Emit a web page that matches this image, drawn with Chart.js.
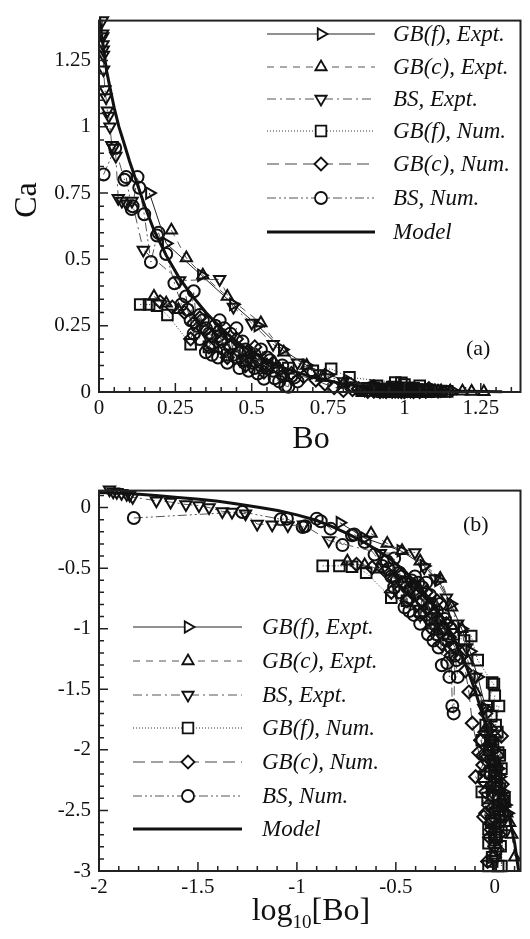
<!DOCTYPE html>
<html>
<head>
<meta charset="utf-8">
<script src="https://cdn.jsdelivr.net/npm/chart.js@4.4.1/dist/chart.umd.min.js"></script>
<style>
  html, body { margin: 0; padding: 0; background: #fff; }
  canvas { display: block; }
</style>
</head>
<body>
<canvas id="chart-a" width="530" height="470"></canvas>
<canvas id="chart-b" width="530" height="469"></canvas>
<script>
const seriesLabels = ["GB(f), Expt.", "GB(c), Expt.", "BS, Expt.", "GB(f), Num.", "GB(c), Num.", "BS, Num.", "Model"];

// values; panel (b) is log10 of the same points
// null marks a break in a series' line
const gbfExptBo = [0.165, 0.22, 0.335, 0.44, 0.52, 0.6, 0.68, 0.75, 0.82, 0.9, 0.97, 1.0, 1.04, 1.06, 1.1, 1.13, 1.16];
const gbfExptCa = [0.75, 0.56, 0.44, 0.33, 0.25, 0.16, 0.1, 0.065, 0.04, 0.022, 0.012, 0.01, 0.007, 0.006, 0.0045, 0.0035, 0.003];

const gbcExptBo = [0.237, 0.286, 0.34, 0.42, 0.53, 0.605, 0.68, 0.73, 0.8, 0.9, 1.0, 1.1, 1.12, 1.15, 1.19, 1.22, 1.26,
    null, 0.18, 0.22, 0.26];
const gbcExptCa = [0.61, 0.505, 0.44, 0.36, 0.26, 0.15, 0.1, 0.055, 0.03, 0.015, 0.008, 0.0042, 0.0036, 0.003, 0.0025, 0.002, 0.0013,
    null, 0.36, 0.335, 0.31];

const bsExptBo = [0.0113, 0.0118, 0.0123, 0.013, 0.0138, 0.0143, 0.0148, 0.0195, 0.023, 0.0275, 0.032, 0.036, 0.042, 0.047, 0.055,
    0.063, 0.075, 0.09, 0.108, 0.145, 0.264, 0.395, 0.44, 0.5, 0.57, 0.65, 0.72, 0.8, 0.88, 0.95, 1.02];
const bsExptCa = [1.40, 1.35, 1.34, 1.31, 1.29, 1.27, 1.215, 1.14, 1.11, 1.06, 1.04, 1.0, 0.93, 0.92, 0.89,
    0.73, 0.72, 0.71, 0.72, 0.535, 0.42, 0.425, 0.32, 0.26, 0.18, 0.11, 0.07, 0.04, 0.022, 0.012, 0.007];

const gbfNumBo = [0.135, 0.164, 0.19, 0.224, 0.3, 0.36, 0.42, 0.48, 0.55, 0.62, 0.7, 0.76, 0.82, 0.97, 0.99, 0.91, 1.05, 1.01,
    1.08, 0.86, 0.93, 0.93, 0.93, 0.97, 1.02, 1.06, 1.08, 1.12, 1.04, 0.95, 0.99,
    null, 1.0, 0.96, 1.03, 0.98, 1.06, 1.0, 0.95, 1.03, 0.98, 1.06, 1.0, 0.96, 1.04, 1.0, 1.07, 1.01, 0.97, 1.04,
    null, 0.86, 0.88, 0.9, 0.92, 0.94, 0.96, 0.98, 1.0, 1.02, 1.04, 1.06, 1.08, 1.1, 1.12, 1.14];
const gbfNumCa = [0.33, 0.33, 0.325, 0.29, 0.18, 0.17, 0.14, 0.12, 0.1, 0.09, 0.08, 0.087, 0.055, 0.036, 0.035, 0.023, 0.023, 0.016,
    0.007, 0.0045, 0.0022, 0.0017, 0.0011, 0.0013, 0.0019, 0.0028, 0.0011, 0.004, 0.0095, 0.012, 0.0055,
    null, 0.028, 0.019, 0.014, 0.011, 0.009, 0.0075, 0.0065, 0.0052, 0.0042, 0.0035, 0.003, 0.0026, 0.0023, 0.002, 0.0016, 0.0014, 0.0012, 0.0011,
    null, 0.012, 0.006, 0.016, 0.004, 0.01, 0.0025, 0.008, 0.0018, 0.006, 0.0032, 0.0048, 0.0021, 0.0038, 0.0026, 0.0024];

const gbcNumBo = [0.2, 0.24, 0.28, 0.31, 0.34, 0.37, 0.4, 0.43, 0.46, 0.49, 0.52, 0.55, 0.59, 0.63, 0.67, 0.71, 0.74, 0.77,
    0.83, 0.87, 0.8, 0.9, 0.93, 0.88, 0.96, 1.0, 1.05, 1.08, 0.95, 0.92, 0.98, 1.02, 0.9, 0.85,
    null, 0.9, 0.95, 0.85, 0.98, 0.92, 1.02, 0.88, 0.97, 1.05, 0.9, 1.0, 0.94, 1.03, 0.99,
    null, 0.3, 0.33, 0.36, 0.39, 0.42, 0.45, 0.48, 0.51, 0.54, 0.57, 0.6,
    null, 0.87, 0.89, 0.91, 0.95, 0.97, 0.99, 1.01, 1.03, 1.07, 1.09, 1.11];
const gbcNumCa = [0.34, 0.32, 0.3, 0.26, 0.24, 0.21, 0.19, 0.17, 0.15, 0.13, 0.12, 0.1, 0.085, 0.07, 0.058, 0.045, 0.03, 0.0166,
    0.0095, 0.0075, 0.006, 0.0045, 0.0035, 0.0028, 0.0022, 0.0016, 0.002, 0.013, 0.005, 0.0012, 0.0026, 0.0033, 0.009, 0.012,
    null, 0.02, 0.015, 0.012, 0.01, 0.008, 0.007, 0.0055, 0.0045, 0.004, 0.003, 0.0027, 0.0019, 0.0015, 0.0013,
    null, 0.2, 0.28, 0.17, 0.23, 0.13, 0.2, 0.1, 0.17, 0.075, 0.11, 0.06,
    null, 0.009, 0.014, 0.0065, 0.011, 0.0033, 0.013, 0.005, 0.009, 0.0028, 0.0052, 0.0035];

const bsNumBo = [0.015, 0.053, 0.083, 0.089, 0.107, 0.11, 0.126, 0.132, 0.148, 0.17, 0.19, 0.195, 0.22, 0.247, 0.27, 0.285,
    0.3, 0.31, 0.32, 0.33, 0.34, 0.35, 0.36, 0.37, 0.38, 0.39, 0.395, 0.4, 0.41, 0.42, 0.43, 0.44, 0.45, 0.46, 0.47, 0.48,
    0.49, 0.5, 0.51, 0.52, 0.53, 0.54, 0.55, 0.56, 0.575, 0.59, 0.6, 0.61, 0.62, 0.63, 0.65,
    null, 0.29, 0.31, 0.33, 0.35, 0.37, 0.39, 0.41, 0.43, 0.45, 0.47, 0.49, 0.51, 0.53, 0.55, 0.57, 0.6, 0.64];
const bsNumCa = [0.82, 0.92, 0.8, 0.81, 0.69, 0.7, 0.81, 0.77, 0.67, 0.49, 0.59, 0.6, 0.52, 0.41, 0.33, 0.36,
    0.27, 0.38, 0.25, 0.2, 0.27, 0.15, 0.22, 0.18, 0.25, 0.13, 0.27, 0.2, 0.16, 0.11, 0.22, 0.14, 0.24, 0.09, 0.12, 0.16,
    0.08, 0.11, 0.14, 0.07, 0.1, 0.05, 0.09, 0.12, 0.052, 0.04, 0.07, 0.023, 0.02, 0.06, 0.04,
    null, 0.31, 0.22, 0.29, 0.24, 0.14, 0.21, 0.24, 0.17, 0.13, 0.19, 0.15, 0.09, 0.16, 0.13, 0.08, 0.1, 0.055];

const modelBo = [0.002, 0.01, 0.013, 0.016, 0.02, 0.025, 0.032, 0.04, 0.05, 0.065, 0.08, 0.1, 0.125, 0.15, 0.18, 0.22, 0.26,
    0.3, 0.35, 0.4, 0.45, 0.5, 0.55, 0.6, 0.7, 0.8, 0.9, 1.0, 1.05, 1.1, 1.2, 1.26, 1.32];
const modelCa = [1.41, 1.33, 1.31, 1.285, 1.25, 1.21, 1.17, 1.125, 1.07, 1.0, 0.945, 0.87, 0.785, 0.7, 0.61, 0.515, 0.435,
    0.37, 0.3, 0.24, 0.19, 0.15, 0.12, 0.093, 0.055, 0.03, 0.016, 0.0085, 0.0062, 0.0045, 0.0025, 0.0017, 0.001];

const seriesData = [
    [gbfExptBo, gbfExptCa],
    [gbcExptBo, gbcExptCa],
    [bsExptBo, bsExptCa],
    [gbfNumBo, gbfNumCa],
    [gbcNumBo, gbcNumCa],
    [bsNumBo, bsNumCa],
    [modelBo, modelCa],
];

const seriesStyles = [
    {pointStyle: "triangle", rotation: 90, radius: 6.5, dash: [], lineColor: "#222", lineWidth: 1},
    {pointStyle: "triangle", rotation: 0, radius: 6.5, dash: [7, 6], lineColor: "#555", lineWidth: 1},
    {pointStyle: "triangle", rotation: 180, radius: 6.5, dash: [9, 4, 2, 4], lineColor: "#555", lineWidth: 1},
    {pointStyle: "rect", rotation: 0, radius: 7.5, dash: [1, 2], lineColor: "#333", lineWidth: 1},
    {pointStyle: "rectRot", rotation: 0, radius: 6.5, dash: [12, 6], lineColor: "#444", lineWidth: 1},
    {pointStyle: "circle", rotation: 0, radius: 6, dash: [9, 3, 2, 3, 2, 3], lineColor: "#555", lineWidth: 1},
    {pointStyle: false, rotation: 0, radius: 0, dash: [], lineColor: "#111", lineWidth: 3},
];

const SERIF = "'Liberation Serif', 'Times New Roman', serif";
const toLog = v => (v == null ? null : Math.log10(v));

function makeDatasets(useLog) {
    return seriesData.map(([bo, ca], i) => {
        const st = seriesStyles[i];
        return {
            label: seriesLabels[i],
            data: bo.map((b, k) => ({
                x: useLog ? toLog(b) : b,
                y: useLog ? toLog(ca[k]) : ca[k],
            })),
            showLine: true,
            spanGaps: false,
            clip: {left: 0, top: 8, right: 0, bottom: 8},
            borderColor: st.lineColor,
            borderWidth: st.lineWidth,
            borderDash: st.dash,
            pointStyle: st.pointStyle,
            pointRotation: st.rotation,
            pointRadius: st.radius,
            pointBorderColor: "#111",
            pointBorderWidth: 2,
            pointBackgroundColor: "rgba(0,0,0,0)",
            order: i === 6 ? 0 : i + 1,
        };
    });
}

function drawParts(ctx, parts, x, y, angle) {
    ctx.save();
    ctx.translate(x, y);
    ctx.rotate(angle);
    ctx.textBaseline = "alphabetic";
    ctx.textAlign = "left";
    let total = 0;
    parts.forEach(p => {
        ctx.font = p.size + "px " + SERIF;
        p.w = ctx.measureText(p.text).width;
        total += p.w;
    });
    let cx = -total / 2;
    parts.forEach(p => {
        ctx.font = p.size + "px " + SERIF;
        ctx.fillText(p.text, cx, p.dy || 0);
        cx += p.w;
    });
    ctx.restore();
}

function decorPlugin(cfg) {
    return {
        id: "decor",
        afterDraw(chart) {
            const ctx = chart.ctx;
            const area = chart.chartArea;
            const xs = chart.scales.x, ys = chart.scales.y;
            ctx.save();
            ctx.fillStyle = "#111";
            ctx.strokeStyle = "#222";

            // inward ticks on left and bottom
            ctx.lineWidth = 1.5;
            ctx.beginPath();
            for (let i = Math.ceil(cfg.xMin / cfg.xMinor - 1e-9); i * cfg.xMinor <= cfg.xMax + 1e-9; i++) {
                const px = xs.getPixelForValue(i * cfg.xMinor);
                const len = i % 5 === 0 ? 9 : 5;
                ctx.moveTo(px, area.bottom);
                ctx.lineTo(px, area.bottom - len);
            }
            for (let i = Math.ceil(cfg.yMin / cfg.yMinor - 1e-9); i * cfg.yMinor <= cfg.yMax + 1e-9; i++) {
                const py = ys.getPixelForValue(i * cfg.yMinor);
                const len = i % 5 === 0 ? 9 : 5;
                ctx.moveTo(area.left, py);
                ctx.lineTo(area.left + len, py);
            }
            ctx.stroke();

            // frame
            ctx.lineWidth = 2;
            ctx.strokeRect(area.left, area.top, area.right - area.left, area.bottom - area.top);

            // axis titles
            drawParts(ctx, cfg.xTitle, cfg.xTitlePos[0], cfg.xTitlePos[1], 0);
            drawParts(ctx, cfg.yTitle, cfg.yTitlePos[0], cfg.yTitlePos[1], -Math.PI / 2);

            // panel tag
            ctx.font = "22px " + SERIF;
            ctx.textAlign = "left";
            ctx.textBaseline = "middle";
            ctx.fillText(cfg.tag, cfg.tagPos[0], cfg.tagPos[1]);

            // legend
            const lg = cfg.legend;
            seriesLabels.forEach((label, i) => {
                const st = seriesStyles[i];
                const y = lg.rows[i];
                ctx.save();
                ctx.strokeStyle = st.lineColor;
                ctx.lineWidth = st.lineWidth;
                ctx.setLineDash(st.dash);
                ctx.beginPath();
                ctx.moveTo(lg.x0, y);
                ctx.lineTo(lg.x1, y);
                ctx.stroke();
                ctx.restore();
                if (st.pointStyle) {
                    ctx.save();
                    ctx.strokeStyle = "#111";
                    ctx.fillStyle = "#fff";
                    ctx.lineWidth = 1.8;
                    Chart.helpers.drawPoint(ctx, {
                        pointStyle: st.pointStyle,
                        rotation: st.rotation,
                        radius: st.radius,
                        borderWidth: 1.8,
                    }, lg.xm, y);
                    ctx.restore();
                }
                ctx.font = "italic 23px " + SERIF;
                ctx.textAlign = "left";
                ctx.textBaseline = "middle";
                ctx.fillStyle = "#111";
                ctx.fillText(label, lg.xt, y + 1);
            });
            ctx.restore();
        },
    };
}

function makeChart(canvas, cfg) {
    const tickFont = {family: SERIF, size: 21};
    return new Chart(canvas, {
        type: "scatter",
        data: {datasets: makeDatasets(cfg.log)},
        options: {
            responsive: false,
            animation: false,
            events: [],
            layout: {padding: cfg.padding},
            plugins: {legend: {display: false}, tooltip: {enabled: false}},
            scales: {
                x: {
                    type: "linear",
                    min: cfg.xMin,
                    max: cfg.xMax,
                    grid: {display: false, drawTicks: false},
                    border: {display: false},
                    ticks: {font: tickFont, color: "#111", padding: 4, maxRotation: 0, autoSkip: false,
                        callback: v => String(v)},
                    afterBuildTicks: s => { s.ticks = cfg.xMajor.map(v => ({value: v})); },
                    afterFit: s => { s.height = cfg.xHeight; },
                },
                y: {
                    type: "linear",
                    min: cfg.yMin,
                    max: cfg.yMax,
                    grid: {display: false, drawTicks: false},
                    border: {display: false},
                    ticks: {font: tickFont, color: "#111", padding: 8, autoSkip: false,
                        callback: v => String(v)},
                    afterBuildTicks: s => { s.ticks = cfg.yMajor.map(v => ({value: v})); },
                    afterFit: s => { s.width = 99; },
                },
            },
        },
        plugins: [decorPlugin(cfg)],
    });
}

makeChart(document.getElementById("chart-a"), {
    log: false,
    padding: {left: 0, top: 7, right: 9, bottom: 0},
    xHeight: 78,
    xMin: 0, xMax: 1.38, xMinor: 0.05, xMajor: [0, 0.25, 0.5, 0.75, 1, 1.25],
    yMin: 0, yMax: 1.40, yMinor: 0.05, yMajor: [0, 0.25, 0.5, 0.75, 1, 1.25],
    xTitle: [{text: "Bo", size: 32}],
    xTitlePos: [311, 448],
    yTitle: [{text: "Ca", size: 32}],
    yTitlePos: [36, 200],
    tag: "(a)",
    tagPos: [466, 349],
    legend: {x0: 267, x1: 375, xm: 321, xt: 393, rows: [34, 67, 99, 131, 164, 198, 232]},
});

makeChart(document.getElementById("chart-b"), {
    log: true,
    padding: {left: 0, top: 16, right: 8, bottom: 0},
    xHeight: 68,
    xMin: -2, xMax: 0.13, xMinor: 0.1, xMajor: [-2, -1.5, -1, -0.5, 0],
    yMin: -3, yMax: 0.14, yMinor: 0.1, yMajor: [-3, -2.5, -2, -1.5, -1, -0.5, 0],
    xTitle: [{text: "log", size: 32}, {text: "10", size: 19, dy: 8}, {text: "[Bo]", size: 32}],
    xTitlePos: [311, 450],
    yTitle: [{text: "log", size: 32}, {text: "10", size: 19, dy: 8}, {text: "[Ca]", size: 32}],
    yTitlePos: [40, 678],
    tag: "(b)",
    tagPos: [463, 55],
    legend: {x0: 133, x1: 242, xm: 188, xt: 262, rows: [157, 191, 225, 258, 292, 326, 359]},
});
</script>
</body>
</html>
